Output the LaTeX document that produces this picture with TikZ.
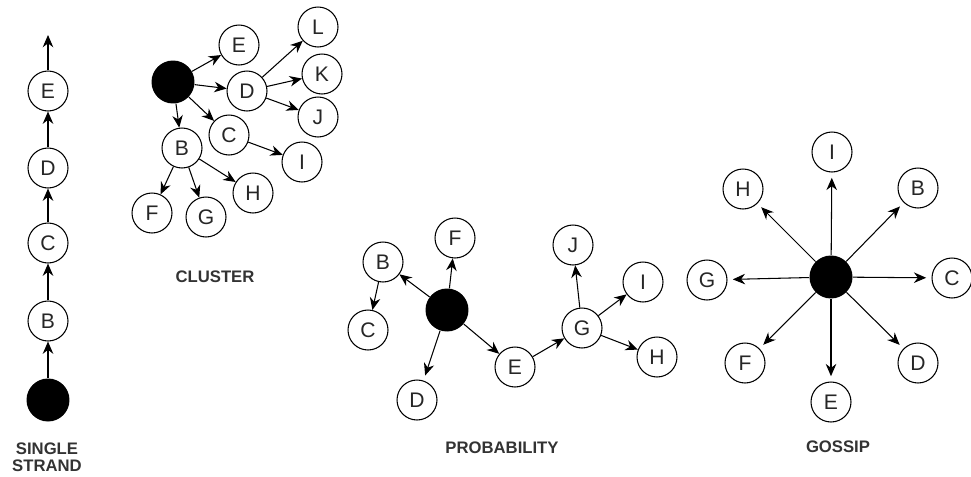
\documentclass[tikz,border=0pt]{standalone}
\usepackage{fontspec}
\setmainfont{Liberation Sans}
\usetikzlibrary{arrows.meta}

\begin{document}
\begin{tikzpicture}[x=0.02cm, y=-0.02cm]
\tikzset{every node/.style={font=\fontsize{12}{14}\selectfont, text=black!85},
    person/.style={draw, circle, line width=0.6pt, minimum size=0.8cm, inner sep=0pt},
    source/.style={fill=black, circle, minimum size=0.86cm, inner sep=0pt},
    caption/.style={font=\bfseries\fontsize{9.5}{11.5}\selectfont, text=black!80, align=center},
    link/.style={line width=0.6pt, -{Stealth[length=7pt, width=6pt]}}}
        \useasboundingbox (0, 0) rectangle (971, 477);

        % single strand
        \node[source] (sO) at (48, 400) {};
        \node[person] (sB) at (48, 321) {B};
        \node[person] (sC) at (48, 243) {C};
        \node[person] (sD) at (48, 168) {D};
        \node[person] (sE) at (48, 91) {E};
        \coordinate (sTop) at (48, 35);
        \draw[link] (sO) -- (sB);
        \draw[link] (sB) -- (sC);
        \draw[link] (sC) -- (sD);
        \draw[link] (sD) -- (sE);
        \draw[link] (sE) -- (sTop);
        \node[caption] (sLabel) at (47, 457) {SINGLE\\[-2pt]STRAND};

        % cluster
        \node[source] (cO) at (173, 82) {};
        \node[person] (cE) at (239, 45) {E};
        \node[person] (cD) at (247, 91) {D};
        \node[person] (cL) at (318, 27) {L};
        \node[person] (cK) at (322, 74) {K};
        \node[person] (cJ) at (318, 117) {J};
        \node[person] (cC) at (229, 135) {C};
        \node[person] (cI) at (302, 162) {I};
        \node[person] (cB) at (182, 148) {B};
        \node[person] (cF) at (152, 213) {F};
        \node[person] (cG) at (206, 217) {G};
        \node[person] (cH) at (253, 193) {H};
        \draw[link] (cO) -- (cE);
        \draw[link] (cO) -- (cD);
        \draw[link] (cO) -- (cC);
        \draw[link] (cO) -- (cB);
        \draw[link] (cD) -- (cL);
        \draw[link] (cD) -- (cK);
        \draw[link] (cD) -- (cJ);
        \draw[link] (cC) -- (cI);
        \draw[link] (cB) -- (cF);
        \draw[link] (cB) -- (cG);
        \draw[link] (cB) -- (cH);
        \node[caption] (cLabel) at (215, 277) {CLUSTER};

        % probability
        \node[source] (pO) at (447, 310) {};
        \node[person] (pB) at (383, 262) {B};
        \node[person] (pC) at (368, 330) {C};
        \node[person] (pF) at (455, 238) {F};
        \node[person] (pD) at (417, 400) {D};
        \node[person] (pE) at (515, 367) {E};
        \node[person] (pG) at (582, 328) {G};
        \node[person] (pJ) at (573, 245) {J};
        \node[person] (pI) at (643, 282) {I};
        \node[person] (pH) at (657, 357) {H};
        \draw[link] (pO) -- (pB);
        \draw[link] (pB) -- (pC);
        \draw[link] (pO) -- (pF);
        \draw[link, shorten >=3pt] (pO) -- (pD);
        \draw[link] (pO) -- (pE);
        \draw[link] (pE) -- (pG);
        \draw[link] (pG) -- (pJ);
        \draw[link] (pG) -- (pI);
        \draw[link] (pG) -- (pH);
        \node[caption] (pLabel) at (502, 448) {PROBABILITY};

        % gossip
        \node[source] (gO) at (831, 277) {};
        \node[person] (gI) at (832, 152) {I};
        \node[person] (gB) at (918, 188) {B};
        \node[person] (gC) at (952, 278) {C};
        \node[person] (gD) at (918, 363) {D};
        \node[person] (gE) at (831, 402) {E};
        \node[person] (gF) at (745, 363) {F};
        \node[person] (gG) at (707, 280) {G};
        \node[person] (gH) at (743, 189) {H};
        \foreach \n in {gI, gB, gC, gD, gE, gF, gG, gH}
            \draw[link, shorten >=3pt] (gO) -- (\n);
        \node[caption] (gLabel) at (838, 447) {GOSSIP};
\end{tikzpicture}
\end{document}
